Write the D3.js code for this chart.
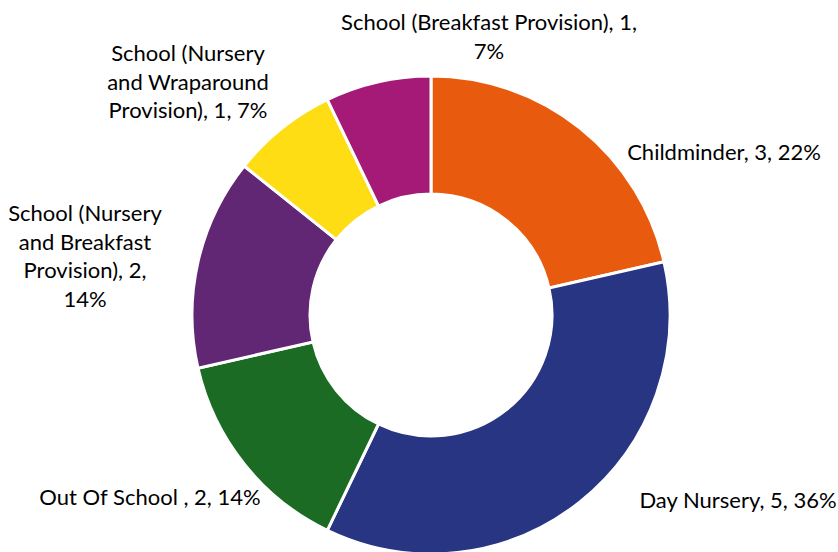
<!DOCTYPE html>
<html><head><meta charset="utf-8">
<script src="https://cdn.jsdelivr.net/npm/d3@7"></script>
<style>html,body{margin:0;padding:0;background:#fff;}svg{display:block;}</style>
</head><body>
<svg id="chart" width="838" height="552"></svg>
<script>
const categories = ["Childminder", "Day Nursery", "Out Of School ", "School (Nursery and Breakfast Provision)", "School (Nursery and Wraparound Provision)", "School (Breakfast Provision)"];
const values = [3, 5, 2, 2, 1, 1];
const percentLabels = ["22%", "36%", "14%", "14%", "7%", "7%"];
const colors = ["#E85B0E", "#283583", "#1B6B24", "#622774", "#FFDD15", "#A51A77"];

// layout (label wrapping and anchor positions)
const labelLines = [
  null,
  null,
  null,
  ["School (Nursery", "and Breakfast", "Provision), 2,", "14%"],
  ["School (Nursery", "and Wraparound", "Provision), 1, 7%"],
  ["School (Breakfast Provision), 1,", "7%"]
];
const labelAnchors = [[724, 152], [738, 500], [150, 497], [85, 213], [188, 53], [489, 22]];

const svg = d3.select("#chart");
const cx = 431, cy = 315, outerR = 239, innerR = 121;
const g = svg.append("g").attr("transform", `translate(${cx},${cy})`);

const data = categories.map((c, i) => ({name: c, value: values[i], pct: percentLabels[i], i}));
const pie = d3.pie().value(d => d.value).sort(null);
const arc = d3.arc().innerRadius(innerR).outerRadius(outerR);

g.selectAll("path").data(pie(data)).join("path")
  .attr("d", arc)
  .attr("fill", d => colors[d.data.i])
  .attr("stroke", "#fff")
  .attr("stroke-width", 3);

const lh = 28.8;
data.forEach((d, i) => {
  const lines = labelLines[i] || [`${d.name}, ${d.value}, ${d.pct}`];
  const [x, y] = labelAnchors[i];
  const t = svg.append("text")
    .attr("text-anchor", "middle")
    .attr("font-family", "Lato, 'Open Sans', sans-serif")
    .attr("font-size", 22)
    .attr("fill", "#000");
  lines.forEach((ln, k) => {
    t.append("tspan").attr("x", x).attr("y", y + k * lh).attr("dy", "0.35em").text(ln);
  });
});
</script>
</body></html>
